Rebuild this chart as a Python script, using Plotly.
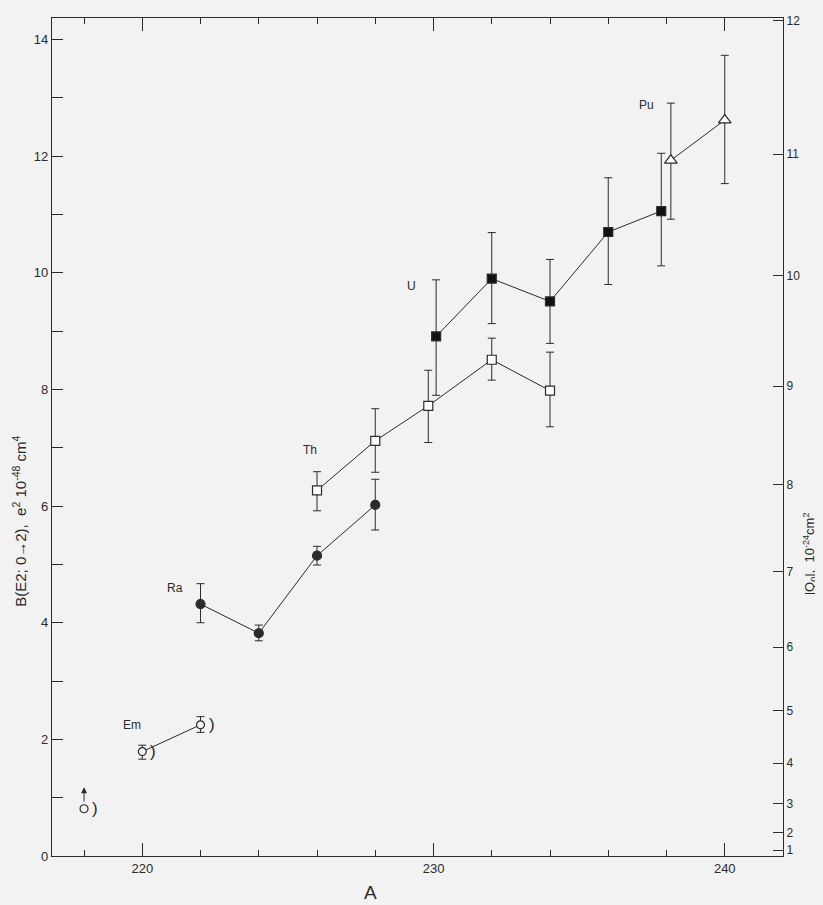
import plotly.graph_objects as go

# ---------------- data (A, B(E2) in e^2 10^-48 cm^4) ----------------
em_A = [218, 220, 222]
em_B = [0.81, 1.79, 2.25]
em_err_plus = [0.0, 0.11, 0.14]
em_err_minus = [0.0, 0.13, 0.13]

ra_A = [222, 224, 226, 228]
ra_B = [4.32, 3.82, 5.15, 6.02]
ra_err_plus = [0.35, 0.14, 0.16, 0.44]
ra_err_minus = [0.32, 0.13, 0.16, 0.43]

th_A = [226, 228, 229.82, 232, 234]
th_B = [6.27, 7.12, 7.72, 8.51, 7.98]
th_err_plus = [0.32, 0.55, 0.61, 0.37, 0.66]
th_err_minus = [0.35, 0.54, 0.63, 0.35, 0.62]

u_A = [230.09, 232, 234, 236, 237.82]
u_B = [8.91, 9.90, 9.51, 10.70, 11.06]
u_err_plus = [0.97, 0.79, 0.72, 0.93, 0.99]
u_err_minus = [1.01, 0.77, 0.72, 0.90, 0.94]

pu_A = [238.15, 240]
pu_B = [11.93, 12.62]
pu_err_plus = [0.98, 1.11]
pu_err_minus = [1.01, 1.09]

q_ticks = [1, 2, 3, 4, 5, 6, 7, 8, 9, 10, 11, 12]
b_ticks = list(range(0, 15))
x_major = [220, 230, 240]

labels = ["Em", "Ra", "Th", "U", "Pu"]
label_A = [219.65, 221.11, 225.77, 229.23, 237.33]
label_B = [2.25, 4.59, 6.97, 9.78, 12.88]

# ---------------- styling ----------------
INK = "#2b2b2b"
BG = "#f2f2f2"
FONT = "Liberation Sans"
Q_TO_B = 5.0 / (16.0 * 3.14159265)  # B(E2) = (5/16pi) Q0^2

fig = go.Figure()


def add_series(xs, ys, ep, em, symbol, size, fill, name=""):
    fig.add_trace(go.Scatter(
        x=xs, y=ys, mode="markers",
        marker=dict(symbol=symbol, size=size, color=fill,
                    line=dict(color=INK, width=1.2)),
        error_y=dict(type="data", symmetric=False, array=ep, arrayminus=em,
                     color=INK, thickness=1, width=4),
        showlegend=False, name=name, cliponaxis=False,
    ))


def add_line(xs, ys):
    fig.add_trace(go.Scatter(x=xs, y=ys, mode="lines",
                             line=dict(color=INK, width=1),
                             showlegend=False, hoverinfo="skip"))


# connecting lines first (under markers)
add_line(em_A[1:], em_B[1:])
add_line(ra_A, ra_B)
add_line(th_A, th_B)
add_line(u_A, u_B)
add_line(pu_A, pu_B)

add_series(em_A[1:], em_B[1:], em_err_plus[1:], em_err_minus[1:],
           "circle", 8, BG, name="Em")
fig.add_trace(go.Scatter(x=em_A[:1], y=em_B[:1], mode="markers",
                         marker=dict(symbol="circle", size=8, color=BG,
                                     line=dict(color=INK, width=1.2)),
                         showlegend=False))
add_series(ra_A, ra_B, ra_err_plus, ra_err_minus, "circle", 9, INK, name="Ra")
add_series(th_A, th_B, th_err_plus, th_err_minus, "square", 9, "white", name="Th")
add_series(u_A, u_B, u_err_plus, u_err_minus, "square", 9, "#111111", name="U")
add_series(pu_A, pu_B, pu_err_plus, pu_err_minus, "triangle-up", 11, "white", name="Pu")

# invisible trace on the right-hand |Q0| axis
fig.add_trace(go.Scatter(x=[None], y=[None], yaxis="y2", showlegend=False))

annotations = []
# lower-limit arrow for A = 218
annotations.append(dict(x=em_A[0], y=1.18, ax=em_A[0], ay=em_B[0] + 0.1,
                        xref="x", yref="y", axref="x", ayref="y",
                        showarrow=True, arrowhead=2, arrowsize=1.2,
                        arrowwidth=1, arrowcolor=INK, text=""))
# parentheses next to Em points
for a, b in zip(em_A, em_B):
    annotations.append(dict(x=a, y=b, xref="x", yref="y", text=")",
                        showarrow=False, xshift=11,
                        font=dict(family=FONT, size=17, color=INK)))
# element labels
for t, a, b in zip(labels, label_A, label_B):
    annotations.append(dict(x=a, y=b, xref="x", yref="y", text=t,
                            showarrow=False,
                            font=dict(family=FONT, size=12, color=INK)))
# axis titles
annotations.append(dict(x=-0.0438, y=0.40, xref="paper", yref="paper",
                        xanchor="center", yanchor="middle",
                        text="B(E2; 0\u21922),  e<sup>2</sup> 10<sup>-48</sup> cm<sup>4</sup>",
                        textangle=-90, showarrow=False,
                        font=dict(family=FONT, size=15, color=INK)))
annotations.append(dict(x=1.037, y=0.36, xref="paper", yref="paper",
                        xanchor="center", yanchor="middle",
                        text="|Q<sub>0</sub>|,  10<sup>-24</sup>cm<sup>2</sup>",
                        textangle=-90, showarrow=False,
                        font=dict(family=FONT, size=13, color=INK)))
annotations.append(dict(x=0.436, y=-0.043, xref="paper", yref="paper",
                        xanchor="center", yanchor="middle",
                        text="A", showarrow=False,
                        font=dict(family=FONT, size=19, color=INK)))

fig.update_layout(
    width=815, height=897,
    margin=dict(l=44, r=40, t=6, b=49),
    paper_bgcolor=BG, plot_bgcolor=BG,
    font=dict(family=FONT, size=13, color=INK),
    annotations=annotations,
    xaxis=dict(range=[216.9, 242.0], showgrid=False, zeroline=False,
               showline=True, linecolor=INK, linewidth=1.2, mirror="ticks",
               tickmode="array", tickvals=x_major,
               ticks="inside", ticklen=13, tickwidth=1, tickcolor=INK,
               minor=dict(tickmode="linear", tick0=0, dtick=2,
                          ticks="inside", ticklen=6, tickwidth=1,
                          tickcolor=INK, showgrid=False),
               tickfont=dict(family=FONT, size=13, color=INK)),
    yaxis=dict(range=[0, 14.37], showgrid=False, zeroline=False,
               showline=True, linecolor=INK, linewidth=1.2,
               tickmode="array", tickvals=b_ticks,
               ticktext=[str(v) if v % 2 == 0 else "" for v in b_ticks],
               ticks="inside", ticklen=11, tickwidth=1, tickcolor=INK,
               tickfont=dict(family=FONT, size=13, color=INK)),
    yaxis2=dict(range=[0, 14.37], overlaying="y", side="right",
                showgrid=False, zeroline=False,
                showline=True, linecolor=INK, linewidth=1.2,
                tickmode="array",
                tickvals=[Q_TO_B * q * q for q in q_ticks],
                ticktext=[str(q) for q in q_ticks],
                ticks="inside", ticklen=10, tickwidth=1, tickcolor=INK,
                tickfont=dict(family=FONT, size=12, color=INK)),
)

fig.write_html("out.html",
               post_script="document.body.style.backgroundColor='#f2f2f2';")
